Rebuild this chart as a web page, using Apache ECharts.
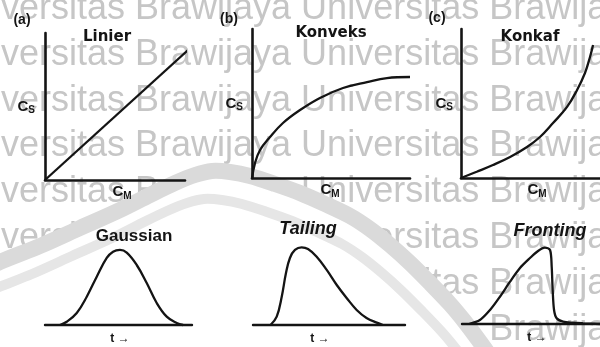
<!DOCTYPE html>
<html>
<head>
<meta charset="utf-8">
<script src="https://cdn.jsdelivr.net/npm/echarts@6/dist/echarts.min.js"></script>
<style>
html, body { margin: 0; padding: 0; background: #fff; }
#chart { width: 600px; height: 347px; }
</style>
</head>
<body>
<div id="chart"></div>
<script>
// Isotherms: stationary-phase concentration (Cs) against mobile-phase concentration (CM)
const linierCM = [0, 10.4];
const linierCS = [0, 9.0];
const konveksCM = [0, 0.19, 0.51, 1.14, 1.96, 3.04, 4.30, 5.76, 7.28, 8.54, 10.0];
const konveksCS = [0, 1.00, 1.88, 2.75, 3.69, 4.56, 5.37, 6.04, 6.44, 6.71, 6.78];
const konkafCM = [0, 1.13, 2.30, 3.53, 4.75, 5.68, 6.62, 7.63, 8.35, 8.92, 9.28, 9.50];
const konkafCS = [0, 0.42, 0.87, 1.41, 2.08, 2.75, 3.69, 4.77, 5.91, 7.05, 8.12, 8.93];

// Resulting peak shapes: detector signal over time t
const gaussT = [1.02, 1.48, 2.16, 2.84, 3.52, 4.20, 4.63, 5.10, 5.56, 6.24, 6.92, 7.60, 8.28, 8.96, 9.39];
const gaussSignal = [0, 4.1, 15.0, 35.4, 60.4, 83.8, 91.6, 93.8, 90.4, 75.0, 52.5, 27.5, 10.4, 2.5, 0];
const tailingT = [1.15, 1.56, 1.89, 2.17, 2.43, 2.76, 3.20, 3.62, 4.19, 4.85, 5.51, 6.16, 6.82, 7.47, 8.14, 8.55];
const tailingSignal = [0, 10.4, 35.4, 65.0, 83.8, 93.8, 97.1, 95.0, 85.4, 68.8, 50.0, 33.8, 18.8, 8.8, 2.9, 0];
const frontingT = [0.5, 1.30, 2.03, 2.75, 3.48, 4.20, 4.93, 5.51, 6.01, 6.38, 6.50, 6.57, 6.67, 6.86, 7.32, 8.04, 8.77, 10.0];
const frontingSignal = [0, 5.0, 17.5, 34.1, 52.9, 70.0, 82.5, 91.3, 95.4, 92.5, 71.6, 42.5, 17.5, 7.1, 2.9, 1.6, 0.9, 0];

// Text
const panelTags = ['(a)', '(b)', '(c)'];
const isothermNames = ['Linier', 'Konveks', 'Konkaf'];
const peakNames = ['Gaussian', 'Tailing', 'Fronting'];
const csLabel = '{c|C}{s|S}';
const cmLabel = '{c|C}{s|M}';
const timeLabel = 't \u2192';
const watermarkText = 'Universitas Brawijaya Universitas Brawijaya';

// ---- layout ----
const INK = '#141414';
const isoGrids = [
  { left: 45, top: 33, width: 140, height: 147 },
  { left: 252, top: 29, width: 158, height: 149 },
  { left: 461, top: 29, width: 139, height: 149 }
];
const peakGrids = [
  { left: 45, top: 245, width: 147, height: 80 },
  { left: 253, top: 245, width: 152, height: 80 },
  { left: 462, top: 244, width: 138, height: 80 }
];
const csGap = [10, 9, 8];
const cmShift = [14, -2, 13];
const tShift = [3, -18, 12];
const tagPos = [[22, 20], [229, 19], [437, 18]];
const isoTitlePos = [[107, 37], [331, 33], [530, 37]];
const peakTitlePos = [[134, 236], [308, 229], [550, 231]];
const peakTitleStyle = ['normal', 'italic', 'italic'];
const curveSmooth = [false, 0.4, 0.4, 0.4, 0.4, 0.3];

const subRich = {
  c: { fontFamily: 'Liberation Sans', fontWeight: 'bold', fontSize: 15, color: INK },
  s: { fontFamily: 'Liberation Sans', fontWeight: 'bold', fontSize: 10, color: INK, padding: [8, 0, 0, 0] }
};

const pairs = (xs, ys) => xs.map((x, i) => [x, ys[i]]);

const grids = [], xAxes = [], yAxes = [], series = [];

isoGrids.forEach((g, i) => {
  grids.push(Object.assign({ containLabel: false }, g));
  xAxes.push({
    type: 'value', gridIndex: i, min: 0, max: 10, z: 10,
    axisLine: { show: true, onZero: false, lineStyle: { color: INK, width: 2.6 } },
    axisTick: { show: false }, axisLabel: { show: false }, splitLine: { show: false },
    name: cmLabel, nameLocation: 'middle', nameGap: 3,
    nameTextStyle: { rich: subRich, padding: cmShift[i] >= 0 ? [0, 0, 0, cmShift[i]] : [0, -cmShift[i], 0, 0] }
  });
  yAxes.push({
    type: 'value', gridIndex: i, min: 0, max: 10, z: 10,
    axisLine: { show: true, onZero: false, lineStyle: { color: INK, width: 2.6 } },
    axisTick: { show: false }, axisLabel: { show: false }, splitLine: { show: false },
    name: csLabel, nameLocation: 'middle', nameRotate: 0, nameGap: csGap[i],
    nameTextStyle: { rich: subRich }
  });
});

peakGrids.forEach((g, j) => {
  const i = j + 3;
  grids.push(Object.assign({ containLabel: false }, g));
  xAxes.push({
    type: 'value', gridIndex: i, min: 0, max: 10, z: 10,
    axisLine: { show: true, onZero: false, lineStyle: { color: INK, width: 2.4 } },
    axisTick: { show: false }, axisLabel: { show: false }, splitLine: { show: false },
    name: timeLabel, nameLocation: 'middle', nameGap: 8,
    nameTextStyle: {
      fontFamily: 'Liberation Sans', fontWeight: 'bold', fontSize: 12, color: INK,
      padding: tShift[j] >= 0 ? [0, 0, 0, tShift[j]] : [0, -tShift[j], 0, 0]
    }
  });
  yAxes.push({ type: 'value', gridIndex: i, min: 0, max: 100, show: false });
});

const curves = [
  pairs(linierCM, linierCS), pairs(konveksCM, konveksCS), pairs(konkafCM, konkafCS),
  pairs(gaussT, gaussSignal), pairs(tailingT, tailingSignal), pairs(frontingT, frontingSignal)
];
curves.forEach((data, i) => {
  series.push({
    type: 'line', xAxisIndex: i, yAxisIndex: i, data: data,
    symbol: 'none', smooth: curveSmooth[i],
    clip: false, silent: true, z: 10,
    lineStyle: { color: INK, width: 2.3 }
  });
});

// Background watermark rows and the emblem arc
const graphics = [];
const rowBaselines = [21, 67, 113, 158, 204, 250, 296, 342];
rowBaselines.forEach(b => {
  graphics.push({
    type: 'text', z: 1, silent: true, x: -53, y: b - 12,
    style: { text: watermarkText, font: '36px "Liberation Sans", Arial, sans-serif', fill: '#c6c6c6', textAlign: 'left', textVerticalAlign: 'middle', align: 'left', verticalAlign: 'middle' }
  });
});
const arcOuter = [[-20, 272], [0, 262], [40, 246], [80, 228], [120, 210], [150, 195], [175, 183], [195, 175], [212, 171], [230, 172], [250, 176], [275, 184], [300, 193], [325, 204], [350, 216], [370, 229], [390, 245], [410, 263], [430, 283], [450, 304], [465, 322], [480, 342], [490, 356]];
const arcInner = arcOuter.map(p => [p[0] - 8, p[1] + 28]);
graphics.push({
  type: 'polygon', z: 2, silent: true,
  shape: { points: arcOuter.concat([[490, 360], [-20, 360]]) },
  style: { fill: '#ffffff' }
});
graphics.push({
  type: 'polyline', z: 3, silent: true,
  shape: { points: arcOuter, smooth: 0.3 },
  style: { stroke: '#dadada', lineWidth: 16, fill: null }
});
graphics.push({
  type: 'polyline', z: 3, silent: true,
  shape: { points: arcInner, smooth: 0.3 },
  style: { stroke: '#e6e6e6', lineWidth: 10, fill: null }
});

panelTags.forEach((t, i) => {
  graphics.push({
    type: 'text', z: 20, x: tagPos[i][0], y: tagPos[i][1],
    style: { text: t, font: 'bold 14px "Liberation Sans", Arial, sans-serif', fill: INK, textAlign: 'center', textVerticalAlign: 'middle', align: 'center', verticalAlign: 'middle' }
  });
});
isothermNames.forEach((t, i) => {
  graphics.push({
    type: 'text', z: 20, x: isoTitlePos[i][0], y: isoTitlePos[i][1],
    style: { text: t, font: 'bold 15px "DejaVu Sans", sans-serif', fill: INK, textAlign: 'center', textVerticalAlign: 'middle', align: 'center', verticalAlign: 'middle' }
  });
});
peakNames.forEach((t, i) => {
  graphics.push({
    type: 'text', z: 20, x: peakTitlePos[i][0], y: peakTitlePos[i][1],
    style: { text: t, font: peakTitleStyle[i] + ' bold ' + (i === 0 ? 17 : 18) + 'px "Liberation Sans", Arial, sans-serif', fill: INK, textAlign: 'center', textVerticalAlign: 'middle', align: 'center', verticalAlign: 'middle' }
  });
});

const chart = echarts.init(document.getElementById('chart'), null, { renderer: 'canvas' });
chart.setOption({
  animation: false,
  backgroundColor: '#ffffff',
  grid: grids,
  xAxis: xAxes,
  yAxis: yAxes,
  series: series,
  graphic: graphics
});
</script>
</body>
</html>
